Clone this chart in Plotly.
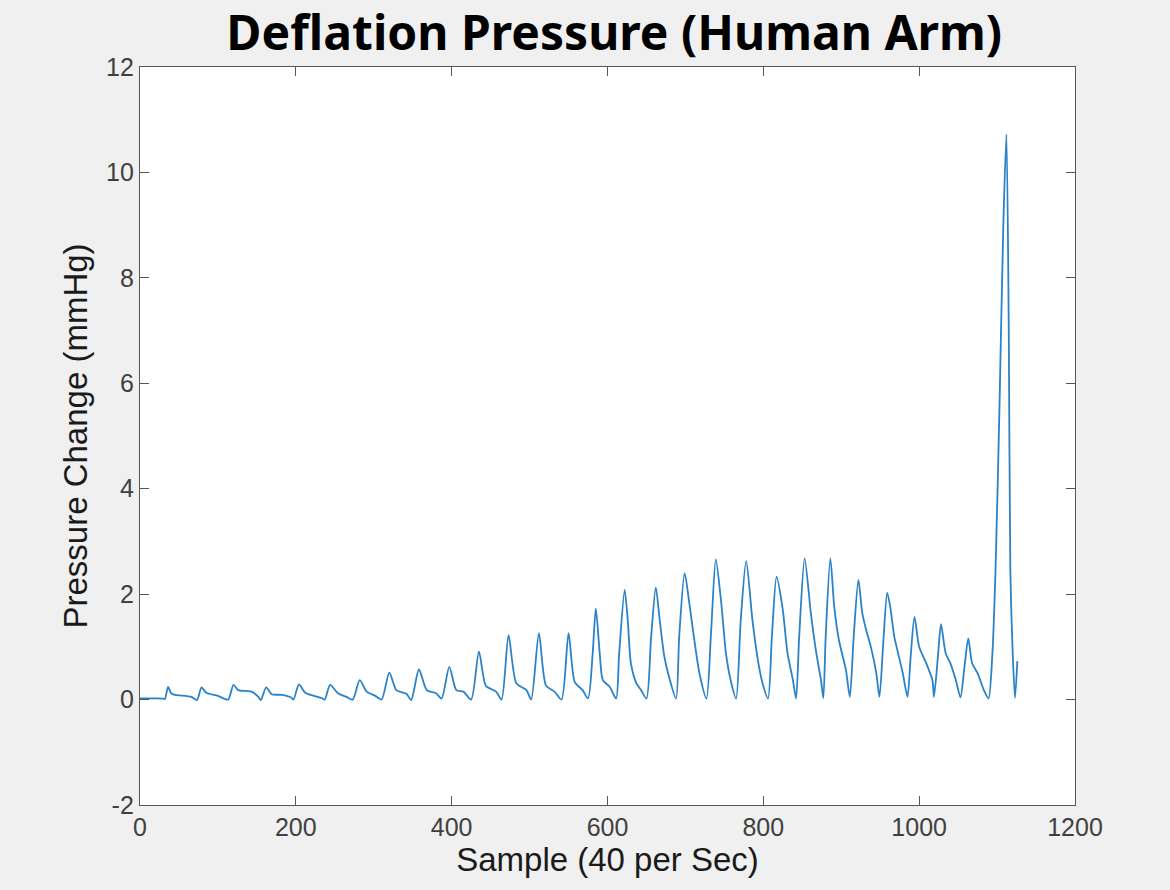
"""
Deflation pressure trace recorded on a human arm (cuff deflation, 40 samples/sec).
"""

import plotly.graph_objects as go

# Key points: sample index and pressure change (mmHg)
sample_idx = [
    0, 30, 32, 36, 40, 45, 66, 73,
    79, 85, 100, 113,
    120, 126, 143, 152, 155,
    162, 169, 182, 194, 197,
    204, 212, 233, 237,
    244, 254, 265, 273,
    282, 291, 302, 310,
    320, 329, 342, 348,
    358, 368, 380, 387,
    397, 406, 415, 425,
    435, 444, 457, 464,
    473, 483, 496, 502,
    512, 521, 532, 541,
    550, 558, 568, 575,
    581, 585, 590, 594, 603, 611,
    615, 622, 626, 630, 637, 643, 650,
    656, 662, 667, 673, 679, 688,
    692, 699, 705, 712, 718, 727,
    733, 739, 746, 752, 758, 765,
    771, 778, 786, 793, 799, 806,
    811, 817, 825, 831, 838, 842,
    846, 853, 861, 868, 874, 877,
    880, 886, 891, 897, 906, 911,
    916, 922, 927, 932, 938, 945, 949,
    954, 959, 963, 968, 972, 979, 985,
    989, 994, 1000, 1009, 1017, 1019,
    1024, 1028, 1034, 1040, 1047, 1053,
    1058, 1063, 1068, 1075, 1083, 1089,
    1094, 1098, 1103, 1108, 1112, 1115, 1117, 1120, 1123, 1126,
]
pressure = [
    0.02, 0.02, 0.01, 0.24, 0.12, 0.09, 0.05, -0.01,
    0.23, 0.13, 0.07, 0.00,
    0.28, 0.18, 0.15, 0.05, -0.01,
    0.23, 0.10, 0.09, 0.04, 0.00,
    0.29, 0.13, 0.03, 0.00,
    0.28, 0.12, 0.05, 0.00,
    0.37, 0.15, 0.07, 0.00,
    0.51, 0.18, 0.11, -0.01,
    0.57, 0.18, 0.12, 0.02,
    0.62, 0.18, 0.15, 0.00,
    0.91, 0.26, 0.15, 0.00,
    1.22, 0.31, 0.18, 0.00,
    1.26, 0.27, 0.15, 0.00,
    1.26, 0.33, 0.18, 0.02,
    0.88, 1.73, 0.88, 0.37, 0.24, 0.02,
    0.88, 2.08, 1.51, 0.69, 0.31, 0.18, 0.02,
    1.19, 2.13, 1.51, 0.81, 0.43, 0.02,
    1.19, 2.40, 1.83, 1.07, 0.50, 0.02,
    1.30, 2.66, 1.83, 0.88, 0.37, 0.02,
    1.51, 2.63, 1.51, 0.75, 0.31, 0.02,
    1.20, 2.33, 1.70, 0.88, 0.37, 0.02,
    1.19, 2.68, 1.64, 0.88, 0.37, 0.03,
    1.19, 2.68, 1.76, 1.13, 0.56, 0.05,
    1.20, 2.27, 1.64, 1.32, 1.00, 0.50, 0.05,
    1.10, 2.03, 1.75, 1.20, 0.94, 0.50, 0.05,
    0.80, 1.57, 1.00, 0.69, 0.37, 0.05,
    0.80, 1.43, 0.88, 0.69, 0.37, 0.04,
    0.60, 1.16, 0.69, 0.50, 0.18, 0.02,
    0.88, 2.46, 5.50, 9.00, 10.72, 7.00, 2.46, 0.90, 0.03, 0.73,
]

x_ticks = [0, 200, 400, 600, 800, 1000, 1200]
y_ticks = [-2, 0, 2, 4, 6, 8, 10, 12]
y_tick_text = ["-2", "0", "2", "4", "6", "8", "10", "12"]

AXIS_COLOR = "#555555"
TEXT_COLOR = "#404040"
LABEL_FONT = "Liberation Sans, Arial"

fig = go.Figure(go.Scatter(
    x=sample_idx,
    y=pressure,
    mode="lines",
    line=dict(color="#2a82c9", width=1.8, shape="spline", smoothing=0.7),
    hovertemplate="Sample %{x}<br>%{y:.2f} mmHg<extra></extra>",
))

axis_common = dict(
    showgrid=False,
    zeroline=False,
    showline=True,
    linecolor=AXIS_COLOR,
    linewidth=1.4,
    mirror="ticks",
    ticks="inside",
    ticklen=9,
    tickwidth=1.2,
    tickcolor=AXIS_COLOR,
    automargin=False,
    tickfont=dict(family=LABEL_FONT, size=25, color=TEXT_COLOR),
)

fig.update_layout(
    width=1170,
    height=890,
    paper_bgcolor="#f0f0f0",
    plot_bgcolor="white",
    margin=dict(l=140, r=95, t=67, b=85),
    showlegend=False,
    title=dict(
        text="<b>Deflation Pressure (Human Arm)</b>",
        x=0.525, xanchor="center",
        y=0.963, yanchor="middle",
        font=dict(family="Noto Sans", size=48, color="black"),
    ),
    xaxis=dict(
        range=[0, 1200],
        tickvals=x_ticks,
        title=dict(text="Sample (40 per Sec)", standoff=2,
                   font=dict(family=LABEL_FONT, size=33, color="#1a1a1a")),
        **axis_common,
    ),
    yaxis=dict(
        range=[-2, 12],
        tickvals=y_ticks,
        ticktext=y_tick_text,
        title=dict(text="Pressure Change (mmHg)", standoff=8,
                   font=dict(family=LABEL_FONT, size=33, color="#1a1a1a")),
        **axis_common,
    ),
)

# the page itself has a default 8px body margin; drop it so the figure sits at 0,0
fig.write_html(
    "out.html",
    config={"displayModeBar": False},
    post_script="document.body.style.margin='0';document.body.style.background='#f0f0f0';",
)
